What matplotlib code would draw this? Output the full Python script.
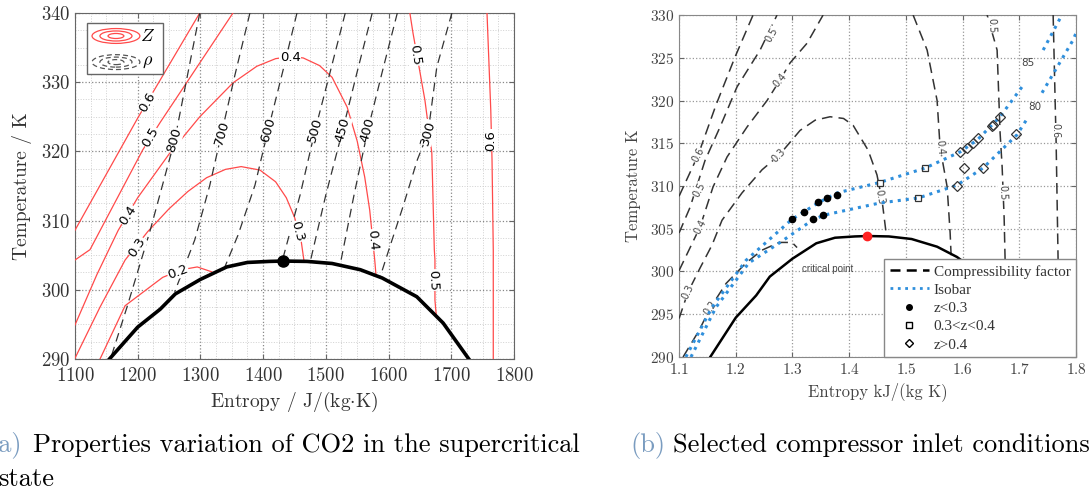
import matplotlib
matplotlib.use("Agg")
import matplotlib.pyplot as plt
from matplotlib.lines import Line2D
from matplotlib.patches import Ellipse, Rectangle
from matplotlib.ticker import AutoMinorLocator, MultipleLocator

plt.rcParams["font.family"] = "serif"
plt.rcParams["font.serif"] = ["cmr10", "DejaVu Serif"]
plt.rcParams["mathtext.fontset"] = "cm"
plt.rcParams["axes.formatter.use_mathtext"] = True

# ---------------- shared saturation dome (kJ/(kg K), K) ----------------
dome_s = [1.155, 1.20, 1.236, 1.26, 1.30, 1.342, 1.375, 1.41, 1.432, 1.47,
          1.51, 1.555, 1.59, 1.645, 1.687, 1.728]
dome_T = [290.0, 294.6, 297.2, 299.4, 301.5, 303.3, 303.95, 304.1, 304.15, 304.1,
          303.8, 302.9, 301.7, 299.0, 295.2, 290.0]
crit_s, crit_T = 1.432, 304.15

# ---------------- (a) compressibility contours, J/(kg K) ----------------
z_lines_a = {
    "0.6a": ([1100, 1200, 1299], [308.6, 324.8, 340.0]),
    "0.6b": ([1757, 1763, 1765, 1767, 1767], [340.0, 326.0, 318.8, 305.7, 290.0]),
    "0.5a": ([1100, 1124, 1208, 1236, 1352], [304.3, 305.8, 320.2, 324.2, 340.0]),
    "0.5b": ([1634, 1639, 1650, 1658, 1669, 1673, 1674, 1674, 1676],
             [340.0, 337.1, 331.5, 327.4, 319.8, 305.8, 304.3, 298.5, 296.4]),
    "0.4": ([1100, 1135, 1169, 1200, 1250, 1299, 1352, 1390, 1420, 1443, 1464, 1490,
             1510, 1534, 1550, 1562, 1570, 1575, 1578, 1580],
            [294.9, 302.2, 308.6, 313.3, 319.6, 325.0, 329.9, 332.3, 333.4, 333.7, 333.5,
             332.4, 330.7, 326.4, 321.5, 316.3, 311.5, 307.0, 304.3, 302.1]),
    "0.3": ([1100, 1140, 1180, 1216, 1250, 1280, 1310, 1340, 1365, 1395, 1420, 1437,
             1450, 1460, 1465],
            [290.1, 297.5, 304.3, 308.4, 311.7, 314.2, 316.2, 317.4, 317.8, 317.3, 315.6,
             313.3, 310.5, 307.5, 304.3]),
    "0.2": ([1140, 1180, 1240, 1270, 1295, 1318], [290.0, 297.7, 301.8, 302.9, 303.3, 302.6]),
}
z_labels_a = [
    ("0.6", 1216, 327.1, 60), ("0.5", 1220, 322.1, 60), ("0.4", 1184, 310.8, 57),
    ("0.3", 1199, 306.2, 57), ("0.2", 1264, 302.6, 20), ("0.4", 1443, 333.6, 0),
    ("0.3", 1454, 308.4, -75), ("0.4", 1574, 307.2, -85), ("0.5", 1642, 333.9, -82),
    ("0.5", 1671, 301.4, -88), ("0.6", 1763, 321.6, 90),
]

# density isolines (kg/m3)
rho_lines_a = {
    "800": ([1299, 1259, 1220, 1183, 1157], [340.0, 321.6, 308.6, 297.5, 290.1]),
    "700": ([1379, 1355, 1334, 1315, 1291, 1259], [340.0, 331.0, 322.7, 315.1, 307.2, 299.7]),
    "600": ([1454, 1432, 1408, 1387, 1360, 1339], [340.0, 331.8, 323.1, 315.1, 307.9, 303.3]),
    "500": ([1531, 1507, 1483, 1459, 1430], [340.0, 331.5, 323.1, 313.7, 304.0]),
    "450": ([1574, 1550, 1527, 1500, 1475], [340.0, 331.5, 323.1, 313.7, 304.0]),
    "400": ([1614, 1590, 1567, 1545, 1523], [340.0, 331.5, 323.1, 313.7, 303.7]),
    "300": ([1701, 1677, 1663, 1646, 1623, 1602, 1586],
            [340.0, 332.2, 322.7, 318.8, 312.0, 306.2, 301.7]),
}
rho_labels_a = [
    ("800", 1259, 321.6), ("700", 1334, 322.7), ("600", 1408, 323.1), ("500", 1483, 323.1),
    ("450", 1527, 323.1), ("400", 1567, 323.1), ("300", 1663, 322.7),
]

# ---------------- (b) compressibility factor lines, kJ/(kg K) ----------------
z_lines_b = {
    "0.6a": ([1.1, 1.1335, 1.1653, 1.1988, 1.2305], [308.8, 313.6, 319.5, 325.1, 330.0]),
    "0.5a": ([1.1, 1.1194, 1.1459, 1.1723, 1.2023, 1.2429, 1.2728],
             [304.5, 307.5, 313.0, 316.9, 321.6, 325.9, 330.0]),
    "0.4a": ([1.1, 1.137, 1.160, 1.1847, 1.2199, 1.2552, 1.2781, 1.2958, 1.3257, 1.354],
             [300.1, 305.2, 309.9, 313.4, 316.9, 320.0, 322.4, 324.4, 326.7, 330.0]),
    "0.3": ([1.1, 1.1159, 1.137, 1.1582, 1.1758, 1.2111, 1.2464, 1.2764, 1.3134, 1.34,
             1.3663, 1.39, 1.4069, 1.4333, 1.449, 1.458, 1.4651],
            [294.5, 297.6, 300.4, 303.1, 306.0, 309.2, 311.9, 313.6, 316.5, 317.7,
             318.1, 317.9, 317.1, 314.2, 311.3, 308.3, 304.5]),
    "0.2": ([1.1071, 1.1353, 1.1547, 1.1829, 1.2182, 1.2464, 1.2764, 1.2993, 1.3081],
            [290.0, 293.1, 295.7, 298.6, 301.0, 302.5, 303.4, 303.4, 302.8]),
    "0.4b": ([1.5127, 1.5374, 1.555, 1.5603, 1.5727, 1.578, 1.5797],
             [330.0, 325.9, 320.0, 314.5, 309.9, 304.5, 301.9]),
    "0.5b": ([1.6432, 1.6608, 1.6661, 1.6697, 1.6732, 1.675, 1.676],
             [330.0, 325.9, 316.2, 312.2, 306.3, 301.1, 290.0]),
    "0.6b": ([1.7596, 1.7631, 1.7649, 1.7684, 1.769], [330.0, 320.0, 315.0, 301.1, 290.0]),
}
z_labels_b = [
    ("0.6", 1.1335, 313.6, 62), ("0.5", 1.1353, 309.5, 62), ("0.4", 1.137, 305.2, 62),
    ("0.3", 1.116, 297.6, 65), ("0.2", 1.155, 295.7, 55), ("0.5", 1.264, 327.7, 60),
    ("0.4", 1.278, 322.4, 50), ("0.3", 1.276, 313.6, 45), ("0.3", 1.4545, 308.7, -80),
    ("0.4", 1.560, 314.5, -85), ("0.5", 1.652, 328.8, -88), ("0.5", 1.671, 309.2, -88),
    ("0.6", 1.763, 316.5, -90),
]

# isobars (bar)
iso85_s = [1.112, 1.158, 1.218, 1.299, 1.347, 1.379, 1.453, 1.534, 1.596, 1.626, 1.666, 1.707]
iso85_T = [290.0, 295.8, 301.3, 306.1, 308.1, 309.2, 310.4, 312.1, 314.0, 315.4, 318.1, 321.8]
iso85_top_s = [1.742, 1.775]
iso85_top_T = [325.9, 330.0]
iso80_s = [1.121, 1.165, 1.223, 1.276, 1.335, 1.356, 1.453, 1.522, 1.590, 1.636, 1.696, 1.716]
iso80_T = [290.0, 295.8, 301.0, 303.3, 306.0, 306.6, 308.0, 308.6, 310.1, 312.1, 316.0, 318.1]
iso80_top_s = [1.740, 1.795, 1.80]
iso80_top_T = [320.9, 327.1, 327.9]

# selected inlet points
dots_s = [1.299, 1.320, 1.345, 1.361, 1.379, 1.336, 1.354]
dots_T = [306.1, 307.0, 308.1, 308.6, 309.0, 306.1, 306.6]
squares_s = [1.454, 1.534, 1.522]
squares_T = [310.4, 312.1, 308.6]
diamonds_s = [1.590, 1.603, 1.636, 1.694, 1.596, 1.608, 1.619, 1.627, 1.652, 1.654, 1.666]
diamonds_T = [310.0, 312.1, 312.1, 316.1, 314.0, 314.5, 315.0, 315.6, 317.0, 317.1, 318.1]

RED = "#ff4a4a"
DASH = "#333333"
BLUE = "#2f8fdc"

fig = plt.figure(figsize=(10.91, 4.97), dpi=100)

# ======================= panel (a) =======================
ax1 = fig.add_axes([0.0687, 0.2777, 0.4024, 0.6962])
ax1.set_xlim(1100, 1800)
ax1.set_ylim(290, 340)
ax1.xaxis.set_major_locator(MultipleLocator(100))
ax1.yaxis.set_major_locator(MultipleLocator(10))
ax1.xaxis.set_minor_locator(AutoMinorLocator(4))
ax1.yaxis.set_minor_locator(AutoMinorLocator(4))
ax1.grid(True, which="major", linestyle=":", color="#888888", linewidth=0.9)
ax1.grid(True, which="minor", linestyle=":", color="#d0d0d0", linewidth=0.7)
ax1.tick_params(which="both", direction="in", top=True, right=True, labelsize=13.5,
                labelcolor="#333333", color="#666666")
ax1.tick_params(axis="x", pad=6)
ax1.tick_params(which="minor", length=0)
for sp in ax1.spines.values():
    sp.set_color("#666666")

for key, (xs, ys) in z_lines_a.items():
    ax1.plot(xs, ys, color=RED, linewidth=0.9, zorder=3)
for key, (xs, ys) in rho_lines_a.items():
    ax1.plot(xs, ys, color=DASH, linewidth=0.9, dashes=(7, 4.5), zorder=3)
ax1.plot([v * 1000 for v in dome_s], dome_T, color="black", linewidth=2.6, zorder=5)
ax1.plot(crit_s * 1000, crit_T, "o", color="black", markersize=8, zorder=6)

for txt, x, y, rot in z_labels_a:
    ax1.text(x, y, txt, rotation=rot, ha="center", va="center", fontsize=9.5,
             family="DejaVu Sans", zorder=4,
             bbox=dict(facecolor="white", edgecolor="none", pad=0.3))
for txt, x, y in rho_labels_a:
    ax1.text(x, y, txt, rotation=74, ha="center", va="center", fontsize=9.5,
             family="DejaVu Sans", zorder=4,
             bbox=dict(facecolor="white", edgecolor="none", pad=0.3))

# legend box drawn by hand (concentric ellipses)
ax1.add_patch(Rectangle((0.027, 0.824), 0.173, 0.147, transform=ax1.transAxes,
                        facecolor="white", edgecolor="#666666", linewidth=1, zorder=7))
for w, h in [(0.109, 0.043), (0.073, 0.029), (0.036, 0.0145)]:
    ax1.add_patch(Ellipse((0.0934, 0.9335), w, h, transform=ax1.transAxes, fill=False,
                          edgecolor=RED, linewidth=0.9, zorder=8))
    ax1.add_patch(Ellipse((0.0934, 0.858), w, h, transform=ax1.transAxes, fill=False,
                          edgecolor="#555555", linewidth=0.9, linestyle=(0, (4, 2.5)),
                          zorder=8))
ax1.text(0.166, 0.9335, r"$Z$", transform=ax1.transAxes, fontsize=13, ha="center",
         va="center", zorder=9)
ax1.text(0.166, 0.858, r"$\rho$", transform=ax1.transAxes, fontsize=13, ha="center",
         va="center", zorder=9)

ax1.set_xlabel(r"Entropy / J/(kg$\cdot$K)", fontsize=14, color="#333333", labelpad=3)
ax1.set_ylabel("Temperature / K", fontsize=14, color="#333333", labelpad=6)

# ======================= panel (b) =======================
ax2 = fig.add_axes([0.6224, 0.2817, 0.3639, 0.6881])
ax2.set_xlim(1.1, 1.8)
ax2.set_ylim(290, 330)
ax2.xaxis.set_major_locator(MultipleLocator(0.1))
ax2.yaxis.set_major_locator(MultipleLocator(5))
ax2.grid(True, linestyle=":", color="#999999", linewidth=0.9)
ax2.tick_params(direction="in", top=True, right=True, labelsize=11,
                labelcolor="#444444", color="#666666")
for sp in ax2.spines.values():
    sp.set_color("#888888")

for key, (xs, ys) in z_lines_b.items():
    ax2.plot(xs, ys, color=DASH, linewidth=1.1, dashes=(7, 4), zorder=3)
for txt, x, y, rot in z_labels_b:
    ax2.text(x, y, txt, rotation=rot, ha="center", va="center", fontsize=7,
             family="DejaVu Sans", color="#444444", zorder=4,
             bbox=dict(facecolor="white", edgecolor="none", pad=0.2))

ax2.plot(iso85_s, iso85_T, color=BLUE, linestyle=":", linewidth=2.2, zorder=4)
ax2.plot(iso85_top_s, iso85_top_T, color=BLUE, linestyle=":", linewidth=2.2, zorder=4)
ax2.plot(iso80_s, iso80_T, color=BLUE, linestyle=":", linewidth=2.2, zorder=4)
ax2.plot(iso80_top_s, iso80_top_T, color=BLUE, linestyle=":", linewidth=2.2, zorder=4)
ax2.text(1.7155, 324.4, "85", fontsize=7.5, family="DejaVu Sans", color="#444444",
         ha="center", va="center")
ax2.text(1.728, 319.2, "80", fontsize=7.5, family="DejaVu Sans", color="#444444",
         ha="center", va="center")

ax2.plot(dome_s, dome_T, color="black", linewidth=1.8, zorder=5)
ax2.plot(crit_s, crit_T, "o", color="#ff2020", markersize=6, zorder=6)
ax2.text(1.3628, 300.3, "critical point", fontsize=7, family="Liberation Sans",
         color="#444444", ha="center", va="center")

ax2.plot(dots_s, dots_T, "o", color="black", markersize=4.5, linestyle="none", zorder=6)
ax2.plot(squares_s, squares_T, "s", markerfacecolor="none", markeredgecolor="#333333",
         markersize=5, markeredgewidth=0.9, linestyle="none", zorder=6)
ax2.plot(diamonds_s, diamonds_T, "D", markerfacecolor="none", markeredgecolor="#333333",
         markersize=5, markeredgewidth=0.9, linestyle="none", zorder=6)

handles = [
    Line2D([], [], color="black", linewidth=1.8, dashes=(4, 2.5)),
    Line2D([], [], color=BLUE, linestyle=":", linewidth=2),
    Line2D([], [], marker="o", color="black", markersize=4, linestyle="none"),
    Line2D([], [], marker="s", markerfacecolor="none", markeredgecolor="black",
           markersize=4.5, linestyle="none"),
    Line2D([], [], marker="D", markerfacecolor="none", markeredgecolor="black",
           markersize=4.5, linestyle="none"),
]
labels = ["Compressibility factor", "Isobar", "z<0.3", "0.3<z<0.4", "z>0.4"]
leg = ax2.legend(handles, labels, loc="lower right", borderaxespad=0,
                 prop={"family": "Liberation Serif", "size": 11},
                 fancybox=False, framealpha=1, edgecolor="#888888", handlelength=2.6,
                 labelspacing=0.3, handletextpad=0.3, borderpad=0.35)
leg.set_zorder(10)
for t in leg.get_texts():
    t.set_color("#333333")

ax2.set_xlabel("Entropy kJ/(kg K)", fontsize=12, color="#444444", labelpad=4)
ax2.set_ylabel("Temperature K", fontsize=12, color="#444444", labelpad=6)

# ======================= captions =======================
fig.text(-0.011, 0.09, "(a)", fontsize=19, color="#7a9cc0", va="baseline")
fig.text(0.030, 0.09, "Properties variation of CO2 in the supercritical", fontsize=19,
         va="baseline")
fig.text(-0.002, 0.022, "state", fontsize=19, va="baseline")
fig.text(0.5775, 0.09, "(b)", fontsize=19, color="#7a9cc0", va="baseline")
fig.text(0.617, 0.09, "Selected compressor inlet conditions", fontsize=19, va="baseline")

fig.savefig("out.png", dpi=100)
